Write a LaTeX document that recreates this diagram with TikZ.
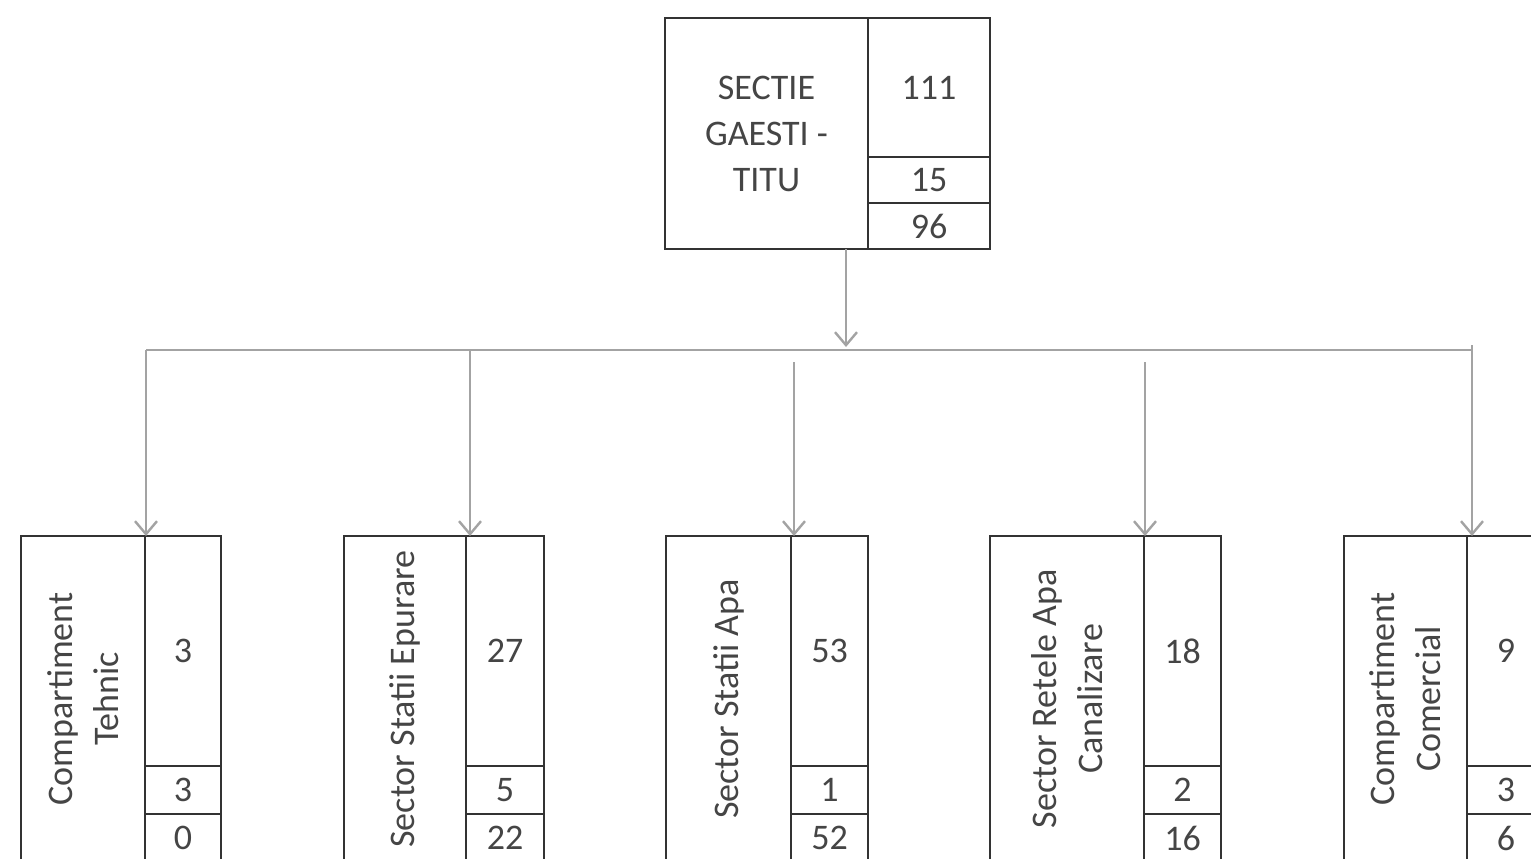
\documentclass[tikz,border=0pt]{standalone}
\usepackage{fontspec}
\setmainfont{Carlito}
\usetikzlibrary{arrows.meta}
\definecolor{txt}{HTML}{454545}
\definecolor{boxc}{HTML}{333333}
\definecolor{conn}{HTML}{A3A3A3}
\newcommand{\orgbox}[8]{%
  \node[cellbox, minimum width={(#3-#2)*1pt}, minimum height=326pt] (#1l) at ({(#2+#3)/2},699) {};
  \node[cellbox, minimum width={(#4-#3)*1pt}, minimum height=230pt] (#1n1) at ({(#3+#4)/2},651) {#6};
  \node[cellbox, minimum width={(#4-#3)*1pt}, minimum height=48pt] (#1n2) at ({(#3+#4)/2},790) {#7};
  \node[cellbox, minimum width={(#4-#3)*1pt}, minimum height=48pt] (#1n3) at ({(#3+#4)/2},838) {#8};
  \node[labeltext, rotate=90] (#1t) at (#1l.center) {#5};
}
\begin{document}
\begin{tikzpicture}[x=1pt,y=-1pt,
  cellbox/.style={draw=boxc, line width=1.8pt, inner sep=0pt, outer sep=0pt, text=txt,
    font=\fontsize{36}{46}\selectfont, align=center},
  labeltext/.style={inner sep=0pt, text=txt, font=\fontsize{36}{46}\selectfont, align=center},
  conn/.style={draw=conn, line width=2.6pt},
  arr/.style={conn, -{Straight Barb[length=13pt,width=22pt,line width=2.4pt]}}]
\useasboundingbox (0,0) rectangle (1531,859);
\fill[white] (0,0) rectangle (1531,859);
\clip (0,0) rectangle (1531,859);
% top box
\node[cellbox, minimum width=203pt, minimum height=231pt] (top) at (766.5,133.5) {SECTIE\\GAESTI -\\TITU};
\node[cellbox, minimum width=122pt, minimum height=139pt] (topn1) at (929,87.5) {111};
\node[cellbox, minimum width=122pt, minimum height=46pt] (topn2) at (929,180) {15};
\node[cellbox, minimum width=122pt, minimum height=46pt] (topn3) at (929,226) {96};
% bottom boxes
\orgbox{b1}{21}{145}{221}{Compartiment\\Tehnic}{3}{3}{0}
\orgbox{b2}{344}{466}{544}{Sector Statii Epurare}{27}{5}{22}
\orgbox{b3}{666}{791}{868}{Sector Statii Apa}{53}{1}{52}
\orgbox{b4}{990}{1144}{1221}{Sector Retele Apa\\Canalizare}{18}{2}{16}
\orgbox{b5}{1344}{1467}{1545}{Compartiment\\Comercial}{9}{3}{6}
% connectors
\coordinate (src) at ([xshift=79.5pt]top.south);
\coordinate (junc) at (846,347);
\coordinate (hl) at (146,350);
\coordinate (hr) at (1472,350);
\draw[arr] (src) -- (junc);
\draw[conn] (hl) -- (hr);
\coordinate (a1) at ([xshift=1pt]b1n1.north west);
\coordinate (a2) at ([xshift=4pt]b2n1.north west);
\coordinate (a3) at ([xshift=3pt]b3n1.north west);
\coordinate (a4) at ([xshift=1pt]b4n1.north west);
\coordinate (a5) at ([xshift=5pt]b5n1.north west);
\draw[arr] (hl) -- (a1);
\draw[arr] (hl -| a2) -- (a2);
\draw[arr] ([yshift=-12pt]hl -| a3) -- (a3);
\draw[arr] ([yshift=-12pt]hl -| a4) -- (a4);
\draw[arr] ([yshift=5pt]hr) -- (a5);
\end{tikzpicture}
\end{document}
